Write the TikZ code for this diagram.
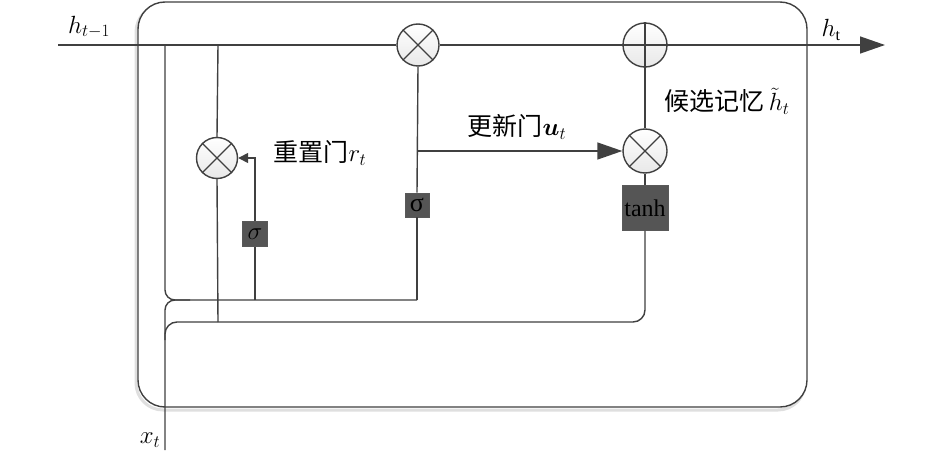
\documentclass[tikz,border=0pt]{standalone}
\usepackage{amsmath}
\usepackage{fontspec}
\setmainfont{Liberation Serif}
\newfontfamily\cjk{Noto Sans CJK SC}
\usetikzlibrary{arrows.meta,shadings}
\definecolor{ln}{HTML}{404040}
\definecolor{bx}{HTML}{555555}
\tikzset{
  wire/.style={draw=ln,line width=1.4pt},
  opc/.style={circle,draw=ln,line width=1.4pt,minimum size=#1,inner sep=0pt,top color=white,bottom color=gray!18},
  gatebox/.style={draw=gray!70!black,fill=bx,line width=0.8pt,inner sep=0pt,minimum width=#1,minimum height=#1},
  bigtip/.style={-{Triangle[length=25pt,width=17pt]}},
  smalltip/.style={-{Triangle[length=10pt,width=10pt]}},
  lbl/.style={inner sep=0pt,font=\fontsize{23}{26}\selectfont},
  clbl/.style={inner sep=0pt,font=\fontsize{25}{28}\selectfont},
}
\begin{document}
\begin{tikzpicture}[x=1pt,y=-1pt]
\useasboundingbox (0,0) rectangle (945,460);
% outer box with faint shadow
\draw[gray!25,line width=3pt,rounded corners=27pt] (136,5) rectangle (805,410);
\draw[ln,line width=1.4pt,fill=white,rounded corners=27pt] (138,2) rectangle (807,407);

% coordinates
\coordinate (hin) at (58,45);
\coordinate (hout) at (885,45);
\coordinate (ha) at (165,45);
\coordinate (hb) at (218,45);
\coordinate (xin) at (165,450);
\coordinate (cat) at (417,300);
\coordinate (xb) at (165,340);
\coordinate (rb) at (218,322);
\coordinate (sa) at (255,300);
\coordinate (ua) at (417,151);

% operators
\node[opc=42pt] (mul1) at (418,45) {};
\node[opc=44pt] (plus) at (645,45) {};
\node[opc=44pt] (mul2) at (645,151) {};
\node[opc=41pt] (mul3) at (217,158) {};
\node[gatebox=25pt] (sig1) at (255,234) {\fontsize{25}{25}\selectfont$\sigma$};
\node[gatebox=24pt] (sig2) at (417,205) {\fontsize{26}{26}\selectfont σ};
\node[gatebox=45pt,minimum width=46pt] (tanh) at (645,208) {\fontsize{24}{24}\selectfont tanh};

% main line
\draw[wire] (hin) -- (mul1.west);
\draw[wire] (mul1.east) -- (plus.west);
\draw[wire,bigtip] (plus.east) -- (hout);

% concatenation lines
\draw[wire,rounded corners=10pt] (ha) -- (165,300) -- (cat);
\draw[wire,rounded corners=10pt] (xin) -- (165,300) -- (190,300);
\draw[wire,rounded corners=12pt] (xb) -- (165,322) -- (645,322) -- (tanh.south);

% reset gate
\draw[wire] (hb) -- (mul3.north);
\draw[wire] (mul3.south) -- (rb);
\draw[wire] (sa) -- (sig1.south);
\draw[wire,smalltip] (sig1.north) |- (mul3.east);

% update gate
\draw[wire] (cat) -- (sig2.south);
\draw[wire] (sig2.north) -- (mul1.south);
\draw[wire,bigtip] (ua) -- (mul2.west);

% candidate
\draw[wire] (plus.south) -- (mul2.north);
\draw[wire] (mul2.south) -- (tanh.north);

% operator symbols
\foreach \n in {mul1,mul2,mul3}{
  \draw[ln,line width=1.4pt] (\n.45) -- (\n.225);
  \draw[ln,line width=1.4pt] (\n.135) -- (\n.315);
}
\draw[ln,line width=1.4pt] (plus.north) -- (plus.south);
\draw[ln,line width=1.4pt] (plus.west) -- (plus.east);

% labels
\node[lbl] (lhin) at (89,27) {$h_{t-1}$};
\node[lbl] (lhout) at (831,30) {$h_{\mathrm{t}}$};
\node[lbl] (lx) at (150,440) {$x_t$};
\node[clbl] (lr) at (320,153) {\cjk 重置门$r_t$};
\node[clbl] (lu) at (517,127) {\cjk 更新门$\boldsymbol{u}_t$};
\node[clbl] (lc) at (727,101) {\cjk 候选记忆\,$\tilde{h}_t$};
\end{tikzpicture}
\end{document}
